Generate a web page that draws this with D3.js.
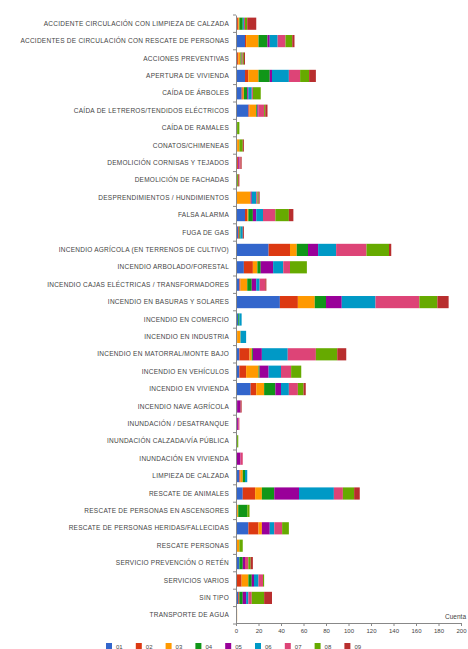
<!DOCTYPE html>
<html><head><meta charset="utf-8">
<script src="https://cdn.jsdelivr.net/npm/d3@7"></script>
<style>body{margin:0;background:#fff}svg{display:block;font-family:"Liberation Sans",Arial,sans-serif}</style>
</head><body><svg id="c" width="468" height="649"></svg>
<script>
const categories = [
"ACCIDENTE CIRCULACIÓN CON LIMPIEZA DE CALZADA",
"ACCIDENTES DE CIRCULACIÓN CON RESCATE DE PERSONAS",
"ACCIONES PREVENTIVAS",
"APERTURA DE VIVIENDA",
"CAÍDA DE ÁRBOLES",
"CAÍDA DE LETREROS/TENDIDOS ELÉCTRICOS",
"CAÍDA DE RAMALES",
"CONATOS/CHIMENEAS",
"DEMOLICIÓN CORNISAS Y TEJADOS",
"DEMOLICIÓN DE FACHADAS",
"DESPRENDIMIENTOS / HUNDIMIENTOS",
"FALSA ALARMA",
"FUGA DE GAS",
"INCENDIO AGRÍCOLA (EN TERRENOS DE CULTIVO)",
"INCENDIO ARBOLADO/FORESTAL",
"INCENDIO CAJAS ELÉCTRICAS / TRANSFORMADORES",
"INCENDIO EN BASURAS Y SOLARES",
"INCENDIO EN COMERCIO",
"INCENDIO EN INDUSTRIA",
"INCENDIO EN MATORRAL/MONTE BAJO",
"INCENDIO EN VEHÍCULOS",
"INCENDIO EN VIVIENDA",
"INCENDIO NAVE AGRÍCOLA",
"INUNDACIÓN / DESATRANQUE",
"INUNDACIÓN CALZADA/VÍA PÚBLICA",
"INUNDACIÓN EN VIVIENDA",
"LIMPIEZA DE CALZADA",
"RESCATE DE ANIMALES",
"RESCATE DE PERSONAS EN ASCENSORES",
"RESCATE DE PERSONAS HERIDAS/FALLECIDAS",
"RESCATE PERSONAS",
"SERVICIO PREVENCIÓN O RETÉN",
"SERVICIOS VARIOS",
"SIN TIPO",
"TRANSPORTE DE AGUA"];
const seriesNames = ["01","02","03","04","05","06","07","08","09"];
const colors = ["#3366cc","#dc3912","#ff9900","#109618","#990099","#0099c6","#dd4477","#66aa00","#b82e2e"];
// values per category, in series order 01..09
const s01 = [1,8,1,8,5,11,0,0,1,0,0,8,2,29,7,3,39,2,0,3,3,13,1,1,0,0,3,6,1,11,0,3,0,2,0];
const s02 = [1,1,1,3,1,1,0,1,1,1,0,2,1,19,8,1,16,0,1,9,6,5,0,0,0,0,1,11,0,9,0,0,5,1,0];
const s03 = [1,11,2,9,1,6,0,2,0,0,13,1,0,6,4,6,15,0,3,2,11,7,0,0,0,0,2,6,1,3,3,0,6,0,1];
const s04 = [3,8,1,10,3,1,1,0,0,0,0,4,1,10,3,4,10,1,0,1,1,10,0,0,1,0,2,11,8,0,0,3,3,3,0];
const s05 = [0,2,0,2,1,1,0,0,1,0,1,3,0,9,11,4,14,0,0,8,8,5,3,1,0,4,0,22,0,7,0,2,2,3,0];
const s06 = [1,7,0,15,3,0,0,0,0,0,4,6,2,16,9,3,30,2,5,23,11,7,0,0,0,0,2,31,0,4,0,0,4,2,0];
const s07 = [1,7,1,10,1,5,0,0,1,0,1,11,0,27,6,5,39,0,0,25,9,8,0,1,0,2,0,8,0,7,0,3,4,3,0];
const s08 = [2,6,1,8,7,1,2,3,0,1,1,12,0,20,15,0,16,0,0,19,9,5,0,0,1,0,0,10,2,6,3,2,1,11,0];
const s09 = [8,2,1,6,0,2,0,1,1,1,1,4,1,2,0,1,10,0,0,8,0,2,1,0,0,0,0,5,0,0,0,2,0,7,0];
const xTicks = [0,20,40,60,80,100,120,140,160,180,200];
const xTitle = "Cuenta";

const series = [s01,s02,s03,s04,s05,s06,s07,s08,s09];
const rows = categories.map((c,i)=>{const r={cat:c}; seriesNames.forEach((k,j)=>r[k]=series[j][i]); return r;});
const stack = d3.stack().keys(seriesNames)(rows);

const svg = d3.select("#c");
const x = d3.scaleLinear().domain([0,200]).range([236,461]);
const y = d3.scaleBand().domain(categories).range([15,624]).paddingInner(0.3).paddingOuter(0.15);
const color = d3.scaleOrdinal().domain(seriesNames).range(colors);

svg.append("g").selectAll("g").data(stack).join("g").attr("fill",d=>color(d.key))
  .selectAll("rect").data(d=>d).join("rect")
  .attr("x",d=>x(d[0])).attr("width",d=>x(d[1])-x(d[0]))
  .attr("y",d=>y(d.data.cat)).attr("height",y.bandwidth());

// y axis
const ya = svg.append("g").attr("transform","translate(236,0)")
  .call(d3.axisLeft(y).tickSize(0).tickPadding(7));
ya.select(".domain").attr("stroke","#888");
ya.selectAll("text").attr("font-size",6.5).attr("letter-spacing",0.25).attr("fill","#444");
// band boundary ticks
const step = y.step();
const bounds = categories.map(c=>y(c)-y.paddingInner()*step/2).concat([y(categories[categories.length-1])+y.bandwidth()+y.paddingInner()*step/2]);
svg.append("g").selectAll("line").data(bounds).join("line")
  .attr("x1",233).attr("x2",236).attr("y1",d=>d).attr("y2",d=>d).attr("stroke","#888");

// x axis
const xa = svg.append("g").attr("transform","translate(0,623)")
  .call(d3.axisBottom(x).tickValues(xTicks).tickSize(3).tickPadding(3));
xa.select(".domain").attr("stroke","#888");
xa.selectAll("line").attr("stroke","#888");
xa.selectAll("text").attr("font-size",6).attr("fill","#444");
svg.append("text").attr("x",466).attr("y",619).attr("text-anchor","end")
  .attr("font-size",6.5).attr("fill","#444").text(xTitle);

// legend
const lg = svg.append("g").selectAll("g").data(seriesNames).join("g")
  .attr("transform",(d,i)=>`translate(${106+i*29.8},643)`);
lg.append("rect").attr("width",6).attr("height",6).attr("fill",d=>color(d));
lg.append("text").attr("x",10).attr("y",5.5).attr("font-size",6).attr("fill","#444").text(d=>d);
</script></body></html>
